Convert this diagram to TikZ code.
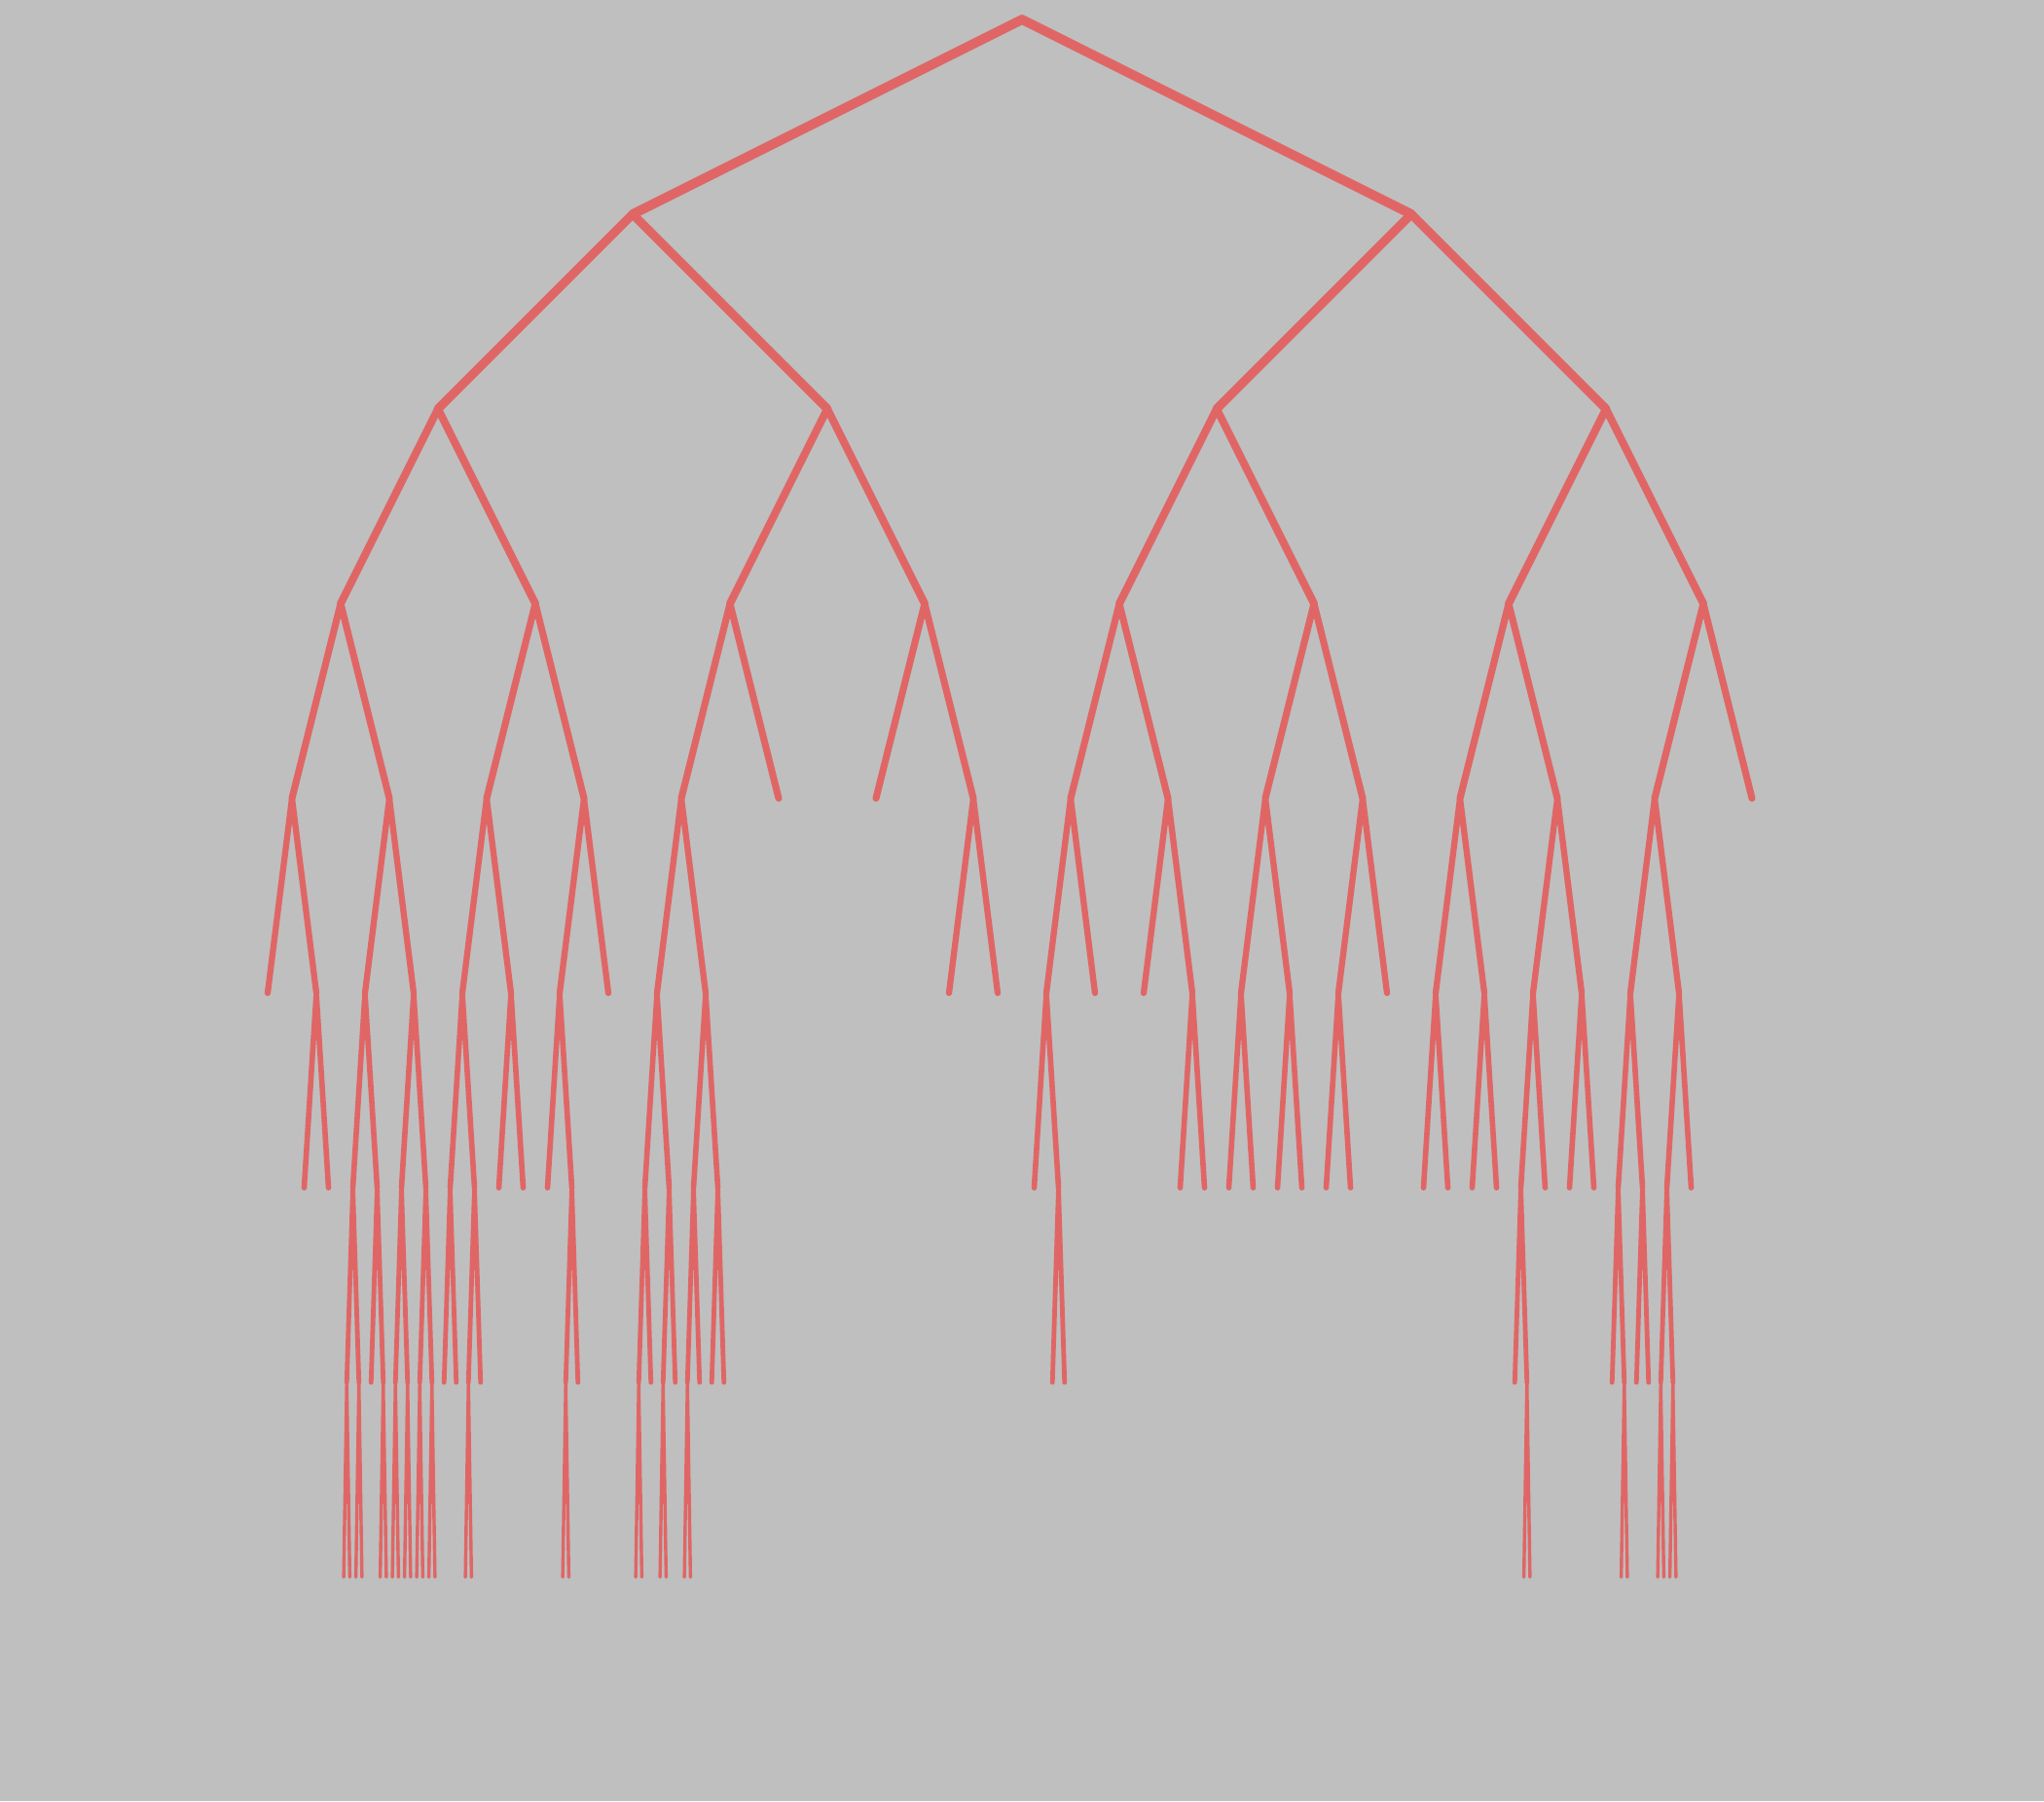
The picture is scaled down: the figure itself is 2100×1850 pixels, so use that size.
\documentclass[tikz,border=0pt]{standalone}
\usetikzlibrary{calc}
\definecolor{bgcol}{HTML}{BFBFBF}
\definecolor{branchcol}{HTML}{E06666}
\tikzset{branch/.style={draw=branchcol, line cap=round, line join=round}}
\newcommand\brn[2]{%
  \pgfmathsetmacro\brsp{800/(2^#2)}%
  \pgfmathsetmacro\brlw{{9.8,8.9,8.0,7.1,6.3,5.6,4.8,3.4}[#2-1]*0.2845}%
  \coordinate (#1L) at ([shift={(-\brsp,200)}]#1);
  \coordinate (#1R) at ([shift={(\brsp,200)}]#1);
  \draw[branch, line width=\brlw pt] (#1L) -- (#1) -- (#1R);
}
\begin{document}
\begin{tikzpicture}[x=0.01cm,y=-0.01cm]
\fill[bgcol] (0,0) rectangle (2100,1850);
\useasboundingbox (0,0) rectangle (2100,1850);
\coordinate (n) at (1050,20);
% level 1
\brn{n}{1}
% level 2
\brn{nL}{2}
\brn{nR}{2}
% level 3
\brn{nLL}{3}
\brn{nLR}{3}
\brn{nRL}{3}
\brn{nRR}{3}
% level 4
\brn{nLLL}{4}
\brn{nLLR}{4}
\brn{nLRL}{4}
\brn{nLRR}{4}
\brn{nRLL}{4}
\brn{nRLR}{4}
\brn{nRRL}{4}
\brn{nRRR}{4}
% level 5
\brn{nLLLL}{5}
\brn{nLLLR}{5}
\brn{nLLRL}{5}
\brn{nLLRR}{5}
\brn{nLRLL}{5}
\brn{nLRRR}{5}
\brn{nRLLL}{5}
\brn{nRLLR}{5}
\brn{nRLRL}{5}
\brn{nRLRR}{5}
\brn{nRRLL}{5}
\brn{nRRLR}{5}
\brn{nRRRL}{5}
% level 6
\brn{nLLLLR}{6}
\brn{nLLLRL}{6}
\brn{nLLLRR}{6}
\brn{nLLRLL}{6}
\brn{nLLRLR}{6}
\brn{nLLRRL}{6}
\brn{nLRLLL}{6}
\brn{nLRLLR}{6}
\brn{nRLLLL}{6}
\brn{nRLLRR}{6}
\brn{nRLRLL}{6}
\brn{nRLRLR}{6}
\brn{nRLRRL}{6}
\brn{nRRLLL}{6}
\brn{nRRLLR}{6}
\brn{nRRLRL}{6}
\brn{nRRLRR}{6}
\brn{nRRRLL}{6}
\brn{nRRRLR}{6}
% level 7
\brn{nLLLRLL}{7}
\brn{nLLLRLR}{7}
\brn{nLLLRRL}{7}
\brn{nLLLRRR}{7}
\brn{nLLRLLL}{7}
\brn{nLLRLLR}{7}
\brn{nLLRRLR}{7}
\brn{nLRLLLL}{7}
\brn{nLRLLLR}{7}
\brn{nLRLLRL}{7}
\brn{nLRLLRR}{7}
\brn{nRLLLLR}{7}
\brn{nRRLRLL}{7}
\brn{nRRRLLL}{7}
\brn{nRRRLLR}{7}
\brn{nRRRLRL}{7}
% level 8
\brn{nLLLRLLL}{8}
\brn{nLLLRLLR}{8}
\brn{nLLLRLRR}{8}
\brn{nLLLRRLL}{8}
\brn{nLLLRRLR}{8}
\brn{nLLLRRRL}{8}
\brn{nLLLRRRR}{8}
\brn{nLLRLLRL}{8}
\brn{nLLRRLRL}{8}
\brn{nLRLLLLL}{8}
\brn{nLRLLLRL}{8}
\brn{nLRLLRLL}{8}
\brn{nRRLRLLR}{8}
\brn{nRRRLLLR}{8}
\brn{nRRRLRLL}{8}
\brn{nRRRLRLR}{8}
\end{tikzpicture}
\end{document}
